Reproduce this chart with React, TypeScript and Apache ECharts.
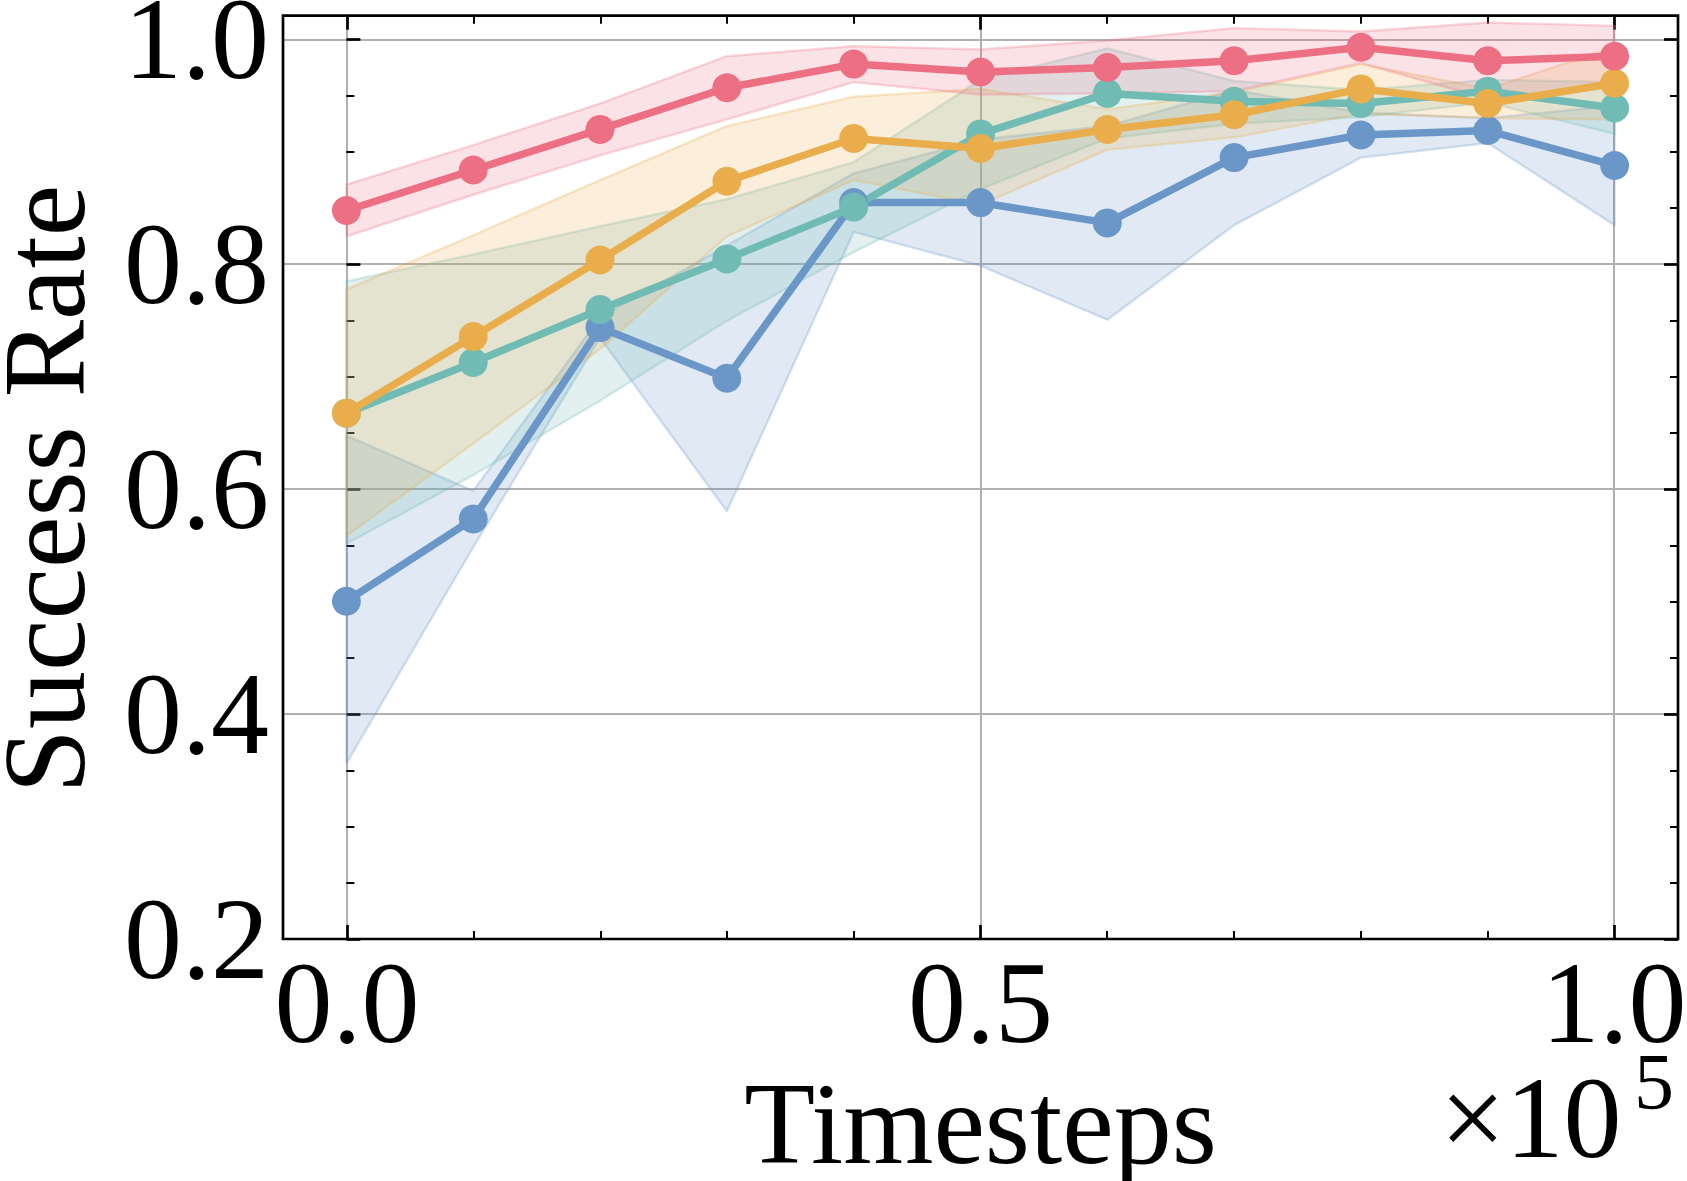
import React, { useEffect, useRef } from "react";
import * as echarts from "echarts";

// ---- data ----
const timesteps = [0, 0.1, 0.2, 0.3, 0.4, 0.5, 0.6, 0.7, 0.8, 0.9, 1.0];

const blueMean = [0.5, 0.573, 0.743, 0.698, 0.854, 0.854, 0.836, 0.894, 0.914, 0.918, 0.887];
const blueUpper = [0.647, 0.598, 0.752, 0.816, 0.88, 0.91, 0.922, 0.954, 0.934, 0.929, 0.94];
const blueLower = [0.356, 0.548, 0.734, 0.58, 0.828, 0.798, 0.75, 0.834, 0.894, 0.907, 0.834];

const tealMean = [0.667, 0.712, 0.759, 0.804, 0.85, 0.915, 0.951, 0.944, 0.942, 0.953, 0.938];
const tealUpper = [0.784, 0.808, 0.833, 0.857, 0.89, 0.963, 0.991, 0.962, 0.954, 0.963, 0.961];
const tealLower = [0.551, 0.612, 0.678, 0.749, 0.81, 0.866, 0.911, 0.924, 0.93, 0.943, 0.915];

const yellowMean = [0.667, 0.735, 0.803, 0.873, 0.911, 0.902, 0.919, 0.932, 0.955, 0.942, 0.96];
const yellowUpper = [0.777, 0.825, 0.874, 0.922, 0.948, 0.955, 0.937, 0.952, 0.977, 0.955, 0.992];
const yellowLower = [0.558, 0.64, 0.724, 0.824, 0.874, 0.852, 0.901, 0.912, 0.933, 0.929, 0.928];

const redMean = [0.847, 0.883, 0.919, 0.956, 0.977, 0.97, 0.974, 0.98, 0.992, 0.98, 0.984];
const redUpper = [0.87, 0.905, 0.942, 0.984, 0.993, 0.99, 0.998, 1.009, 1.006, 1.014, 1.011];
const redLower = [0.824, 0.861, 0.896, 0.928, 0.961, 0.95, 0.951, 0.953, 0.978, 0.946, 0.957];

const yTicks = [0.2, 0.4, 0.6, 0.8, 1.0];
const xTicks = [0.0, 0.5, 1.0];

const xLabel = "Timesteps";
const yLabel = "Success Rate";
const offsetText = "×10";
const offsetExp = "5";

const COLORS = {
  blue: "#6a97c8",
  teal: "#70bbb3",
  yellow: "#eaad4c",
  red: "#ec6f84",
};

const FONT = '"Liberation Serif", "Times New Roman", Times, serif';
const FS = 116;

type Group = { key: string; color: string; mean: number[]; upper: number[]; lower: number[] };

const groups: Group[] = [
  { key: "blue", color: COLORS.blue, mean: blueMean, upper: blueUpper, lower: blueLower },
  { key: "teal", color: COLORS.teal, mean: tealMean, upper: tealUpper, lower: tealLower },
  { key: "yellow", color: COLORS.yellow, mean: yellowMean, upper: yellowUpper, lower: yellowLower },
  { key: "red", color: COLORS.red, mean: redMean, upper: redUpper, lower: redLower },
];

// frame geometry (pixels)
const W = 1687;
const H = 1181;
const FL = 283;
const FR = 1678;
const FT = 15.7;
const FB = 939;
const Y1 = 39.3; // pixel of y = 1.0
const X0 = 347; // pixel of x = 0
const X1 = 1614; // pixel of x = 1.0

const hidden = {
  axisLine: { show: false },
  axisTick: { show: false },
  axisLabel: { show: false },
  splitLine: { show: false },
};

function rgba(hex: string, a: number) {
  const n = parseInt(hex.slice(1), 16);
  return `rgba(${(n >> 16) & 255},${(n >> 8) & 255},${n & 255},${a})`;
}

export default function App() {
  const ref = useRef<HTMLDivElement>(null);

  useEffect(() => {
    if (!ref.current) return;
    const chart = echarts.init(ref.current, undefined, { renderer: "svg" });

    const bandSeries: any[] = [];
    const lineSeries: any[] = [];
    groups.forEach((g) => {
      bandSeries.push({
        type: "custom",
        name: g.key + "-band",
        xAxisIndex: 0,
        yAxisIndex: 0,
        data: timesteps.map((t, i) => [t, g.lower[i], g.upper[i]]),
        encode: { x: 0, y: [1, 2] },
        z: 2,
        silent: true,
        renderItem: (params: any, api: any) => {
          if (params.dataIndex !== 0) return { type: "group", children: [] };
          const pts: number[][] = [];
          for (let i = 0; i < timesteps.length; i++) pts.push(api.coord([timesteps[i], g.upper[i]]));
          for (let i = timesteps.length - 1; i >= 0; i--) pts.push(api.coord([timesteps[i], g.lower[i]]));
          return {
            type: "polygon",
            shape: { points: pts },
            style: {
              fill: rgba(g.color, 0.2),
              stroke: rgba(g.color, 0.28),
              lineWidth: 2.4,
              lineJoin: "round",
            },
          };
        },
      });
      lineSeries.push({
        type: "line",
        name: g.key,
        xAxisIndex: 0,
        yAxisIndex: 0,
        data: timesteps.map((t, i) => [t, g.mean[i]]),
        symbol: "circle",
        symbolSize: 29,
        showSymbol: true,
        lineStyle: { color: g.color, width: 7.5 },
        itemStyle: { color: g.color },
        z: 3,
        silent: true,
      });
    });

    const tickLabelStyle = { fontFamily: FONT, fontSize: FS, color: "#000" };

    chart.setOption({
      animation: false,
      backgroundColor: "#fff",
      grid: [
        {
          left: FL,
          top: FT,
          width: FR - FL,
          height: FB - FT,
          show: true,
          borderColor: "#000",
          borderWidth: 2.7,
          backgroundColor: "transparent",
          z: 4,
          outerBoundsMode: "none",
          containLabel: false,
        },
        { left: FL, top: Y1, width: FR - FL, height: FB - Y1, outerBoundsMode: "none", containLabel: false },
        { left: X0, top: FT, width: X1 - X0, height: FB - FT, outerBoundsMode: "none", containLabel: false },
      ],
      xAxis: [
        { gridIndex: 0, type: "value", min: -0.05, max: 1.05, ...hidden },
        { gridIndex: 1, type: "value", min: -0.05, max: 1.05, ...hidden },
        {
          gridIndex: 2,
          type: "value",
          position: "bottom",
          min: xTicks[0],
          max: xTicks[xTicks.length - 1],
          interval: 0.5,
          axisLine: { show: false },
          axisTick: { show: true, inside: true, length: 14, lineStyle: { color: "#000", width: 2.7 } },
          minorTick: { show: true, splitNumber: 5, length: 8, lineStyle: { color: "#000", width: 2 } },
          splitLine: { show: true, lineStyle: { color: "#b0b0b0", width: 2 } },
          axisLabel: {
            ...tickLabelStyle,
            lineHeight: 80,
            margin: 24,
            showMinLabel: true,
            showMaxLabel: true,
            formatter: (v: number) => v.toFixed(1),
          },
          name: xLabel,
          nameLocation: "middle",
          nameGap: 128,
          nameTextStyle: { fontFamily: FONT, fontSize: FS, color: "#000", lineHeight: 90 },
        },
        {
          gridIndex: 2,
          type: "value",
          position: "top",
          min: xTicks[0],
          max: xTicks[xTicks.length - 1],
          interval: 0.5,
          axisLine: { show: false },
          axisTick: { show: true, inside: true, length: 14, lineStyle: { color: "#000", width: 2.7 } },
          minorTick: { show: true, splitNumber: 5, length: 8, lineStyle: { color: "#000", width: 2 } },
          splitLine: { show: false },
          axisLabel: { show: false },
        },
      ],
      yAxis: [
        { gridIndex: 0, type: "value", min: 0.2, max: 1.02, ...hidden },
        {
          gridIndex: 1,
          type: "value",
          position: "left",
          min: yTicks[0],
          max: yTicks[yTicks.length - 1],
          interval: 0.2,
          axisLine: { show: false },
          axisTick: { show: true, inside: true, length: 14, lineStyle: { color: "#000", width: 2.7 } },
          minorTick: { show: true, splitNumber: 4, length: 8, lineStyle: { color: "#000", width: 2 } },
          splitLine: { show: true, showMinLine: false, lineStyle: { color: "#b0b0b0", width: 2 } },
          axisLabel: {
            ...tickLabelStyle,
            lineHeight: 76,
            margin: 14,
            showMinLabel: true,
            showMaxLabel: true,
            formatter: (v: number) => v.toFixed(1),
          },
          name: yLabel,
          nameLocation: "middle",
          nameRotate: 90,
          nameGap: 196,
          nameTextStyle: { fontFamily: FONT, fontSize: FS, color: "#000", lineHeight: 84 },
        },
        {
          gridIndex: 2,
          type: "value",
          min: 0.2,
          max: 1.02,
          ...hidden,
        },
        {
          gridIndex: 1,
          type: "value",
          position: "right",
          min: yTicks[0],
          max: yTicks[yTicks.length - 1],
          interval: 0.2,
          axisLine: { show: false },
          axisTick: { show: true, inside: true, length: 14, lineStyle: { color: "#000", width: 2.7 } },
          minorTick: { show: true, splitNumber: 4, length: 8, lineStyle: { color: "#000", width: 2 } },
          splitLine: { show: false },
          axisLabel: { show: false },
        },
      ],
      graphic: [
        {
          type: "text",
          x: 1440,
          y: 1118,
          silent: true,
          style: {
            text: offsetText,
            fontFamily: FONT,
            fontSize: FS,
            lineHeight: 90,
            fill: "#000",
            textAlign: "left",
            textVerticalAlign: "middle",
          },
        },
        {
          type: "text",
          x: 1634,
          y: 1082,
          silent: true,
          style: {
            text: offsetExp,
            fontFamily: FONT,
            fontSize: 80,
            lineHeight: 56,
            fill: "#000",
            textAlign: "left",
            textVerticalAlign: "middle",
          },
        },
      ],
      series: [...bandSeries, ...lineSeries],
    });

    return () => {
      chart.dispose();
    };
  }, []);

  return (
    <div
      ref={ref}
      style={{ position: "absolute", left: 0, top: 0, width: W, height: H, background: "#fff" }}
    />
  );
}
